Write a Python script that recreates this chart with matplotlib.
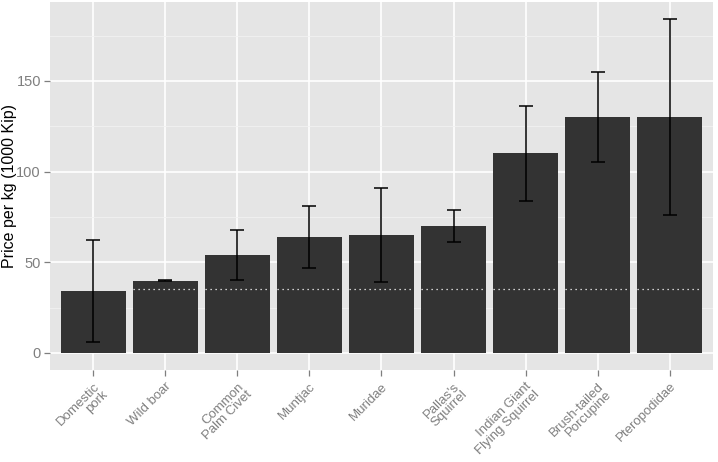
import numpy as np
import matplotlib
matplotlib.use("Agg")
import matplotlib.pyplot as plt
from matplotlib.ticker import MultipleLocator

plt.rcParams['font.family'] = ['Liberation Sans', 'DejaVu Sans']

species = ["Domestic\npork", "Wild boar", "Common\nPalm Civet", "Muntjac", "Muridae",
           "Pallas's\nSquirrel", "Indian Giant\nFlying Squirrel", "Brush-tailed\nPorcupine",
           "Pteropodidae"]
price = [34, 39.5, 54, 64, 65, 70, 110, 130, 130]
low = [6, 39.5, 40, 47, 39, 61, 84, 105, 76]
high = [62, 40, 68, 81, 91, 79, 136, 155, 184]
pork_ref = 35

x = np.arange(1, len(species) + 1)
price = np.array(price)
yerr = [price - np.array(low), np.array(high) - price]

fig = plt.figure(figsize=(7.18, 4.62), dpi=100)
ax = fig.add_axes([0.0696, 0.199, 0.9234, 0.7967])
ax.set_facecolor("#E5E5E5")

ax.yaxis.set_major_locator(MultipleLocator(50))
ax.yaxis.set_minor_locator(MultipleLocator(25))
ax.grid(which="major", color="white", linewidth=1.2)
ax.grid(which="minor", axis="y", color="#F2F2F2", linewidth=0.6)
ax.set_axisbelow(True)

ax.bar(x, price, width=0.9, color="#333333", zorder=2)
ax.errorbar(x, price, yerr=yerr, fmt="none", ecolor="black", elinewidth=1.1,
            capsize=5, capthick=1.1, zorder=3)
# dotted reference line (domestic pork price) across bars
ax.hlines([pork_ref] * (len(x) - 1), x[1:] - 0.45, x[1:] + 0.45, colors="white",
          linestyles=(0, (1, 3)), linewidth=0.9, zorder=4)

ax.set_xlim(0.4, 9.6)
ax.set_ylim(-9.5, 193.5)
ax.set_xticks(x)
ax.set_xticklabels(species, rotation=45, ha="right", va="top",
                   rotation_mode="anchor", color="#7F7F7F", fontsize=9.5,
                   linespacing=0.95)
ax.tick_params(axis="y", labelcolor="#7F7F7F", labelsize=10.5, pad=2)
ax.tick_params(axis="x", pad=3)
ax.tick_params(which="major", color="#7F7F7F", length=4.5, width=0.9)
ax.tick_params(which="minor", length=0)
for s in ax.spines.values():
    s.set_visible(False)

ax.set_ylabel("Price per kg (1000 Kip)", fontsize=11.5)
ax.yaxis.set_label_coords(-0.049, 0.5)

fig.savefig("out.png", dpi=100)
